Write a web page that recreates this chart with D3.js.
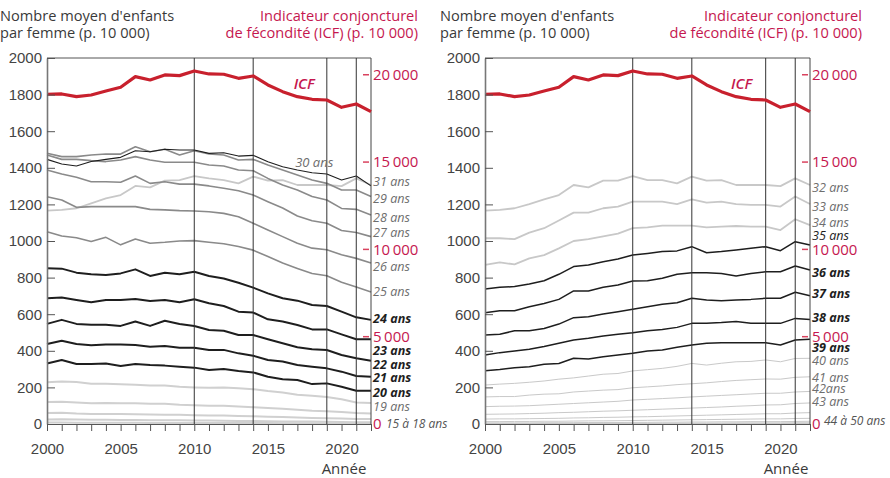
<!DOCTYPE html>
<html>
<head>
<meta charset="utf-8">
<script src="https://cdn.jsdelivr.net/npm/d3@7"></script>
<style>
  body { margin: 0; background: #fff; }
  svg { font-family: "Open Sans", sans-serif; }
  .tick text { font-size: 15px; fill: #444; }
  .tick line, .domain { stroke: #555; }
  .title { font-size: 14.6px; fill: #3a3a3a; }
  .title-red { font-size: 14.6px; fill: #c5174f; }
  .red-label { font-size: 15px; fill: #c5174f; }
  .age { font-size: 12.6px; font-style: italic; }
</style>
</head>
<body>
<div id="chart"></div>
<script>
// ---- data ----
const years = [2000, 2001, 2002, 2003, 2004, 2005, 2006, 2007, 2008, 2009, 2010, 2011,
               2012, 2013, 2014, 2015, 2016, 2017, 2018, 2019, 2020, 2021, 2022];
const eventYears = [2010, 2014, 2019, 2021];

// ICF, per 10 000 women
const icf = [18883, 18900, 18750, 18843, 19072, 19284, 19892, 19702, 19989, 19950, 20218, 20046,
             20028, 19797, 19931, 19416, 19033, 18747, 18595, 18556, 18136, 18327, 17887];

// age-specific rates, per 10 000 women
const age15 = [8, 8, 7, 7, 7, 7, 7, 6, 6, 6, 6, 6, 5, 5, 5, 5, 4, 4, 4, 4, 3, 3, 3];
const age16 = [25, 26, 24, 23, 23, 22, 22, 21, 21, 20, 19, 19, 18, 17, 16, 15, 14, 14, 13, 12, 11, 10, 10];
const age17 = [60, 62, 57, 55, 55, 54, 53, 52, 51, 50, 48, 47, 46, 44, 42, 40, 38, 35, 33, 32, 30, 28, 27];
const age18 = [120, 122, 118, 114, 115, 114, 113, 110, 110, 105, 103, 100, 100, 96, 92, 88, 83, 78, 73, 70, 65, 60, 58];
const age19 = [228, 232, 230, 220, 220, 217, 214, 210, 210, 203, 200, 198, 200, 195, 190, 180, 172, 160, 155, 148, 135, 118, 115];
const age20 = [331, 350, 328, 328, 331, 317, 328, 322, 319, 313, 308, 295, 300, 289, 282, 258, 245, 240, 218, 222, 204, 182, 182];
const age21 = [437, 455, 437, 430, 435, 435, 432, 422, 426, 417, 417, 404, 405, 386, 373, 350, 341, 322, 313, 304, 286, 262, 258];
const age22 = [547, 569, 547, 542, 542, 536, 560, 536, 564, 547, 536, 514, 510, 486, 486, 463, 441, 419, 408, 404, 377, 359, 346];
const age23 = [687, 691, 678, 665, 678, 678, 683, 672, 678, 665, 682, 660, 645, 614, 609, 572, 560, 541, 517, 517, 490, 463, 463];
const age24 = [851, 849, 827, 818, 814, 823, 845, 809, 827, 818, 832, 809, 795, 772, 745, 714, 687, 674, 650, 645, 614, 583, 569];
const age25 = [1051, 1027, 1018, 997, 1020, 979, 1011, 988, 993, 1000, 1002, 993, 985, 970, 950, 915, 880, 850, 822, 810, 775, 748, 721];
const age26 = [1242, 1224, 1184, 1188, 1188, 1188, 1188, 1173, 1170, 1166, 1164, 1160, 1151, 1133, 1097, 1060, 1024, 988, 961, 952, 925, 905, 880];
const age27 = [1388, 1366, 1348, 1324, 1324, 1321, 1355, 1315, 1324, 1311, 1311, 1301, 1288, 1275, 1251, 1215, 1180, 1137, 1111, 1097, 1057, 1046, 1024];
const age28 = [1470, 1446, 1446, 1439, 1434, 1443, 1461, 1443, 1430, 1430, 1430, 1415, 1410, 1388, 1384, 1342, 1306, 1279, 1243, 1224, 1178, 1173, 1142];
const age29 = [1479, 1461, 1461, 1470, 1475, 1475, 1515, 1488, 1501, 1470, 1493, 1475, 1470, 1443, 1446, 1415, 1388, 1361, 1333, 1315, 1279, 1279, 1243];
const age30 = [1446, 1421, 1410, 1434, 1446, 1457, 1493, 1488, 1501, 1497, 1497, 1479, 1482, 1464, 1468, 1433, 1406, 1388, 1373, 1366, 1333, 1355, 1301];
const age31 = [1166, 1170, 1179, 1206, 1233, 1251, 1301, 1293, 1330, 1333, 1355, 1342, 1333, 1315, 1352, 1330, 1333, 1306, 1306, 1306, 1300, 1342, 1306];
const age32 = [1166, 1170, 1179, 1202, 1228, 1251, 1306, 1293, 1330, 1330, 1355, 1333, 1333, 1315, 1352, 1330, 1333, 1306, 1306, 1306, 1300, 1342, 1306];
const age33 = [1015, 1015, 1010, 1046, 1070, 1112, 1155, 1155, 1179, 1188, 1215, 1215, 1215, 1202, 1228, 1210, 1215, 1202, 1197, 1197, 1188, 1243, 1202];
const age34 = [869, 883, 872, 905, 923, 960, 1000, 1010, 1025, 1040, 1070, 1075, 1084, 1084, 1084, 1075, 1079, 1082, 1079, 1079, 1060, 1119, 1087];
const age35 = [738, 747, 751, 765, 783, 818, 860, 869, 887, 902, 923, 932, 942, 946, 969, 936, 942, 951, 960, 969, 947, 996, 978];
const age36 = [608, 619, 619, 641, 659, 681, 727, 727, 747, 760, 781, 783, 796, 818, 827, 827, 823, 809, 823, 832, 832, 863, 841];
const age37 = [486, 491, 509, 509, 522, 546, 581, 586, 601, 614, 627, 641, 654, 663, 687, 678, 674, 678, 681, 687, 687, 720, 701];
const age38 = [377, 390, 399, 408, 423, 441, 459, 468, 481, 490, 499, 510, 517, 528, 550, 550, 554, 560, 550, 550, 550, 577, 571];
const age39 = [291, 298, 307, 313, 326, 331, 359, 355, 368, 377, 386, 399, 404, 419, 432, 441, 444, 444, 444, 444, 432, 459, 463];
const age40 = [213, 218, 222, 228, 235, 245, 252, 262, 272, 276, 290, 297, 304, 315, 331, 322, 332, 340, 342, 350, 340, 358, 359];
const age41 = [148, 150, 150, 158, 163, 165, 175, 180, 185, 188, 198, 203, 208, 215, 220, 225, 232, 238, 242, 246, 245, 255, 258];
const age42 = [95, 97, 98, 100, 104, 108, 112, 116, 120, 124, 131, 135, 139, 143, 148, 152, 156, 160, 164, 168, 168, 175, 178];
const age43 = [53, 54, 55, 57, 59, 62, 64, 67, 70, 72, 75, 78, 81, 84, 87, 90, 93, 97, 100, 104, 105, 112, 115];
const age44 = [27, 28, 28, 29, 30, 31, 33, 34, 36, 37, 39, 40, 42, 44, 46, 48, 50, 52, 54, 56, 56, 60, 62];
const age45 = [13, 13, 14, 14, 15, 15, 16, 17, 17, 18, 19, 20, 21, 22, 23, 24, 25, 26, 27, 28, 28, 30, 31];
const age46 = [6, 6, 6, 6, 7, 7, 7, 8, 8, 8, 9, 9, 10, 10, 11, 11, 12, 12, 13, 13, 13, 14, 15];
const age47 = [3, 3, 3, 3, 3, 3, 4, 4, 4, 4, 4, 4, 5, 5, 5, 5, 5, 6, 6, 6, 6, 7, 7];
const age48 = [1, 1, 1, 1, 1, 1, 2, 2, 2, 2, 2, 2, 2, 2, 2, 2, 3, 3, 3, 3, 3, 3, 3];

const leftTicks = [0, 200, 400, 600, 800, 1000, 1200, 1400, 1600, 1800, 2000];
const icfTicks = [0, 5000, 10000, 15000, 20000];
const labelYears = [2000, 2005, 2010, 2015, 2020];

// ---- line styles ----
const styles = {
    light:  {stroke: "#d0d0d0", width: 2},
    pale:   {stroke: "#c8c8c8", width: 1.8},
    hair:   {stroke: "#c9c9c9", width: 1},
    gray:   {stroke: "#8a8a8a", width: 1.6},
    thin:   {stroke: "#1e1e1e", width: 1.1},
    mid:    {stroke: "#1e1e1e", width: 1.5},
    dark:   {stroke: "#1e1e1e", width: 2}
};

const panels = [
    {x0: 47, x1: 371, titleX: 0, redX: 418, anneeX: 344, icfYear: 2016.75,
     series: [
        {v: age15, k: "light"}, {v: age16, k: "light"}, {v: age17, k: "light"}, {v: age18, k: "light"},
        {v: age19, k: "light", label: "19 ans", dy: 4},
        {v: age31, k: "pale", label: "31 ans", dy: -3},
        {v: age25, k: "gray", label: "25 ans", dy: 0},
        {v: age26, k: "gray", label: "26 ans", dy: 4},
        {v: age27, k: "gray", label: "27 ans", dy: -4},
        {v: age28, k: "gray", label: "28 ans", dy: 3},
        {v: age29, k: "gray", label: "29 ans", dy: 2},
        {v: age30, k: "thin"},
        {v: age20, k: "dark", label: "20 ans", dy: 2, bold: true},
        {v: age21, k: "dark", label: "21 ans", dy: 1, bold: true},
        {v: age22, k: "dark", label: "22 ans", dy: 4, bold: true},
        {v: age23, k: "dark", label: "23 ans", dy: 11, bold: true},
        {v: age24, k: "dark", label: "24 ans", dy: -1, bold: true}
     ],
     extra: [{text: "30 ans", year: 2016.85, value: 1430, fill: "#6e6e6e"},
             {text: "15 à 18 ans", year: 2022, value: 0, dx: 15, size: 12, fill: "#555"}]},
    {x0: 485, x1: 810, titleX: 440, redX: 862, anneeX: 786, icfYear: 2016.65,
     series: [
        {v: age48, k: "hair"}, {v: age47, k: "hair"}, {v: age46, k: "hair"}, {v: age45, k: "hair"}, {v: age44, k: "hair"},
        {v: age43, k: "hair", label: "43 ans", dy: -1},
        {v: age42, k: "hair", label: "42ans", dy: -3},
        {v: age41, k: "hair", label: "41 ans", dy: 1},
        {v: age40, k: "hair", label: "40 ans", dy: 2},
        {v: age32, k: "pale", label: "32 ans", dy: 3},
        {v: age33, k: "pale", label: "33 ans", dy: 3},
        {v: age34, k: "pale", label: "34 ans", dy: -2},
        {v: age35, k: "mid", label: "35 ans", dy: -9, black: true},
        {v: age36, k: "mid", label: "36 ans", dy: 2, bold: true},
        {v: age37, k: "mid", label: "37 ans", dy: -2, bold: true},
        {v: age38, k: "mid", label: "38 ans", dy: -1.5, bold: true},
        {v: age39, k: "mid", label: "39 ans", dy: 8, bold: true}
     ],
     extra: [{text: "44 à 50 ans", year: 2022, value: 0, dx: 14, dyPx: -3, size: 12, fill: "#555"}]}
];

// ---- drawing ----
const width = 890, height = 478;
const plotTop = 58, plotBottom = 424;

const svg = d3.select("#chart").append("svg")
    .attr("width", width)
    .attr("height", height);

panels.forEach(function(p) {
    let x = d3.scaleLinear().domain([2000, 2022]).range([p.x0, p.x1]);
    let y = d3.scaleLinear().domain([0, 2000]).range([plotBottom, plotTop]);
    let y2 = d3.scaleLinear().domain([0, 20960]).range([plotBottom, plotTop]);

    let g = svg.append("g");

    // titles
    g.append("text").attr("class", "title").attr("x", p.titleX).attr("y", 21).text("Nombre moyen d'enfants");
    g.append("text").attr("class", "title").attr("x", p.titleX).attr("y", 38).text("par femme (p. 10 000)");
    g.append("text").attr("class", "title-red").attr("x", p.redX).attr("y", 21)
        .style("text-anchor", "end").text("Indicateur conjoncturel");
    g.append("text").attr("class", "title-red").attr("x", p.redX).attr("y", 38)
        .style("text-anchor", "end").text("de fécondité (ICF) (p. 10 000)");

    // lines
    let line = d3.line()
        .x(function(d, i) { return x(years[i]); })
        .y(function(d) { return y(d); });

    g.selectAll(".age-line")
        .data(p.series)
        .enter().append("path")
        .attr("class", "age-line")
        .attr("d", function(d) { return line(d.v); })
        .style("fill", "none")
        .style("stroke", function(d) { return styles[d.k].stroke; })
        .style("stroke-width", function(d) { return styles[d.k].width; })
        .style("stroke-linejoin", "round");

    // frame and event lines
    g.append("line").attr("x1", p.x0).attr("x2", p.x1).attr("y1", plotTop).attr("y2", plotTop)
        .style("stroke", "#555").style("stroke-width", 1);
    g.append("line").attr("x1", p.x1).attr("x2", p.x1).attr("y1", plotTop).attr("y2", plotBottom)
        .style("stroke", "#444").style("stroke-width", 1);
    g.selectAll(".event")
        .data(eventYears)
        .enter().append("line")
        .attr("class", "event")
        .attr("x1", function(d) { return x(d); })
        .attr("x2", function(d) { return x(d); })
        .attr("y1", plotTop).attr("y2", plotBottom)
        .style("stroke", "#333").style("stroke-width", 1);

    // ICF
    let icfLine = d3.line()
        .x(function(d, i) { return x(years[i]); })
        .y(function(d) { return y2(d); });
    g.append("path")
        .attr("d", icfLine(icf))
        .style("fill", "none")
        .style("stroke", "#c8202d")
        .style("stroke-width", 3.2)
        .style("stroke-linejoin", "round");
    g.append("text")
        .attr("x", x(p.icfYear))
        .attr("y", y2(19480))
        .attr("dy", "0.35em")
        .style("font-size", "15px").style("font-style", "italic").style("font-weight", 600)
        .style("fill", "#c5174f")
        .text("ICF");

    // left axis
    g.append("g")
        .attr("transform", "translate(" + p.x0 + ",0)")
        .call(d3.axisLeft(y).tickValues(leftTicks).tickSize(-8).tickSizeOuter(0).tickPadding(5)
            .tickFormat(d3.format("d")))
        .call(function(a) { a.select(".domain").style("stroke", "#777").style("stroke-width", 1.6); });

    // bottom axis
    g.append("g")
        .attr("transform", "translate(0," + plotBottom + ")")
        .call(d3.axisBottom(x).tickValues(years).tickSize(7).tickSizeOuter(0).tickPadding(12)
            .tickFormat(function(d) { return labelYears.indexOf(d) >= 0 ? d : ""; }))
        .call(function(a) { a.select(".domain").style("stroke", "#555").style("stroke-width", 1.2); });

    g.append("text").attr("class", "title")
        .attr("x", p.anneeX).attr("y", 474)
        .style("text-anchor", "middle").style("font-size", "15px")
        .text("Année");

    // right ICF axis
    g.selectAll(".red-tick")
        .data(icfTicks.filter(function(d) { return d > 0; }))
        .enter().append("line")
        .attr("x1", p.x1 - 8).attr("x2", p.x1 - 2)
        .attr("y1", function(d) { return y2(d); })
        .attr("y2", function(d) { return y2(d); })
        .style("stroke", "#d9435f").style("stroke-width", 1.5);
    g.selectAll(".red-label")
        .data(icfTicks)
        .enter().append("text")
        .attr("class", "red-label")
        .attr("x", p.x1 + 2)
        .attr("y", function(d) { return y2(d); })
        .attr("dy", "0.35em")
        .text(function(d) { return d3.format(",")(d).replace(",", "\u2009"); });

    // age labels
    g.selectAll(".age-label")
        .data(p.series.filter(function(d) { return d.label; }))
        .enter().append("text")
        .attr("class", "age")
        .attr("x", p.x1 + 2)
        .attr("y", function(d) { return y(d.v[d.v.length - 1]) + d.dy; })
        .attr("dy", "0.35em")
        .style("fill", function(d) { return (d.bold || d.black) ? "#1e1e1e" : "#6e6e6e"; })
        .style("font-weight", function(d) { return d.bold ? 700 : 400; })
        .text(function(d) { return d.label; });

    g.selectAll(".extra-label")
        .data(p.extra)
        .enter().append("text")
        .attr("class", "age")
        .attr("x", function(d) { return x(d.year) + (d.dx || 0); })
        .attr("y", function(d) { return y(d.value) + (d.dyPx || 0); })
        .attr("dy", "0.35em")
        .style("font-size", function(d) { return (d.size || 13) + "px"; })
        .style("fill", function(d) { return d.fill; })
        .text(function(d) { return d.text; });
});
</script>
</body>
</html>
